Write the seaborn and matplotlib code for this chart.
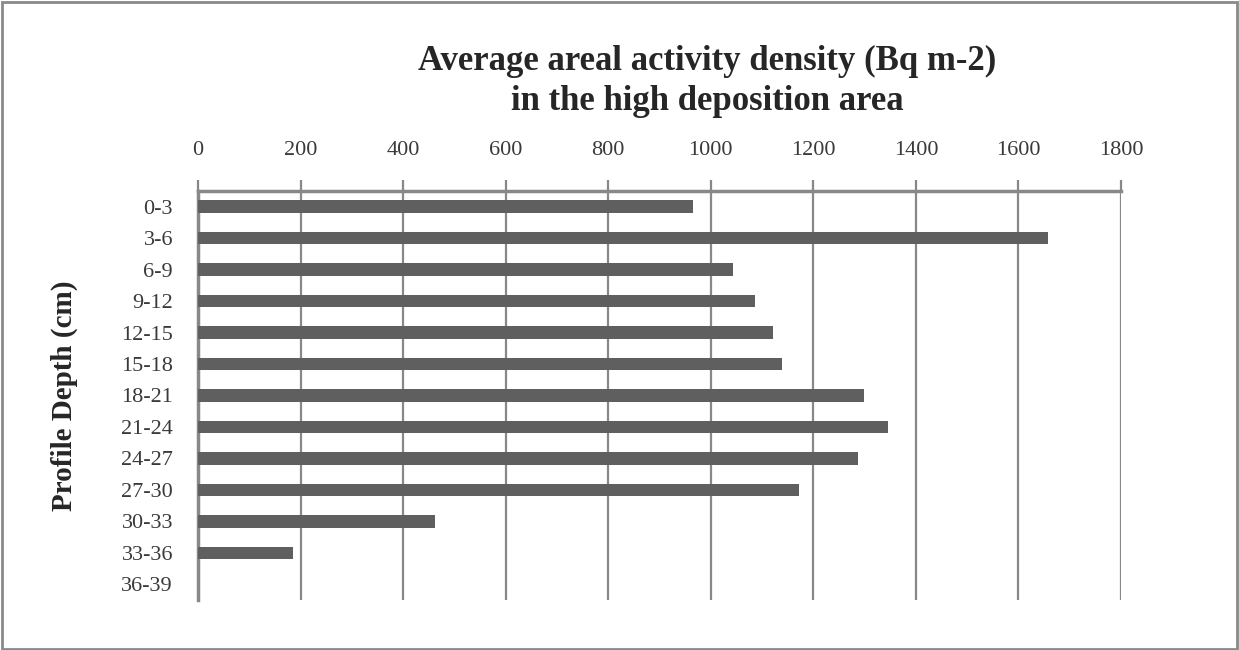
import matplotlib
matplotlib.use('Agg')
import matplotlib.pyplot as plt
import seaborn as sns
from matplotlib.patches import Rectangle

# Profondeurs du profil et densité d'activité surfacique moyenne
depths = ['0-3', '3-6', '6-9', '9-12', '12-15', '15-18', '18-21',
          '21-24', '24-27', '27-30', '30-33', '33-36', '36-39']
activity = [965, 1657, 1044, 1087, 1122, 1138, 1298,
            1346, 1287, 1172, 463, 186, 0]
x_ticks = [0, 200, 400, 600, 800, 1000, 1200, 1400, 1600, 1800]

sns.set_style('white')
plt.rcParams['font.family'] = ['Liberation Serif', 'DejaVu Serif']

fig = plt.figure(figsize=(12.39, 6.5), dpi=100)
ax = fig.add_axes([198 / 1239, 1 - 600 / 650, (1121 - 198) / 1239, (600 - 191) / 650])

sns.barplot(x=activity, y=depths, color='#5f5f5f', saturation=1, width=0.4,
            orient='h', ax=ax, zorder=3, linewidth=0, edgecolor='none')

grid_col = '#888888'
ax.set_xlim(0, 1800)
ax.set_ylim(12.5, -0.5)
ax.set_xticks(x_ticks)
ax.set_xticklabels([str(t) for t in x_ticks])
ax.xaxis.tick_top()
ax.tick_params(axis='x', which='major', direction='out', length=8, width=1.6,
               color=grid_col, labelsize=16, pad=14, labelcolor='#3a3a3a')
ax.tick_params(axis='y', length=0, labelsize=16, pad=18, labelcolor='#3a3a3a')
ax.grid(axis='x', color=grid_col, linewidth=1.6, zorder=0)
ax.grid(axis='y', visible=False)
ax.set_axisbelow(True)

for side in ['bottom', 'right']:
    ax.spines[side].set_visible(False)
ax.spines['top'].set_color(grid_col)
ax.spines['top'].set_linewidth(2.5)
ax.spines['left'].set_color(grid_col)
ax.spines['left'].set_linewidth(2.5)

ax.set_xlabel('')
ax.set_ylabel('Profile Depth (cm)', fontsize=21, fontweight='bold')
ax.yaxis.set_label_coords((78 - 198) / 923, 0.5)

fig.text(707 / 1239, 1 - 81 / 650,
         'Average areal activity density (Bq m-2)\nin the high deposition area',
         ha='center', va='center', fontsize=25, fontweight='bold',
         linespacing=1.28)

# cadre gris autour de la figure
fig.patches.append(Rectangle((0.0015, 0.002), 0.997, 0.995, transform=fig.transFigure,
                             fill=False, edgecolor='#8a8a8a', linewidth=2))

fig.savefig('out.png', dpi=100)
